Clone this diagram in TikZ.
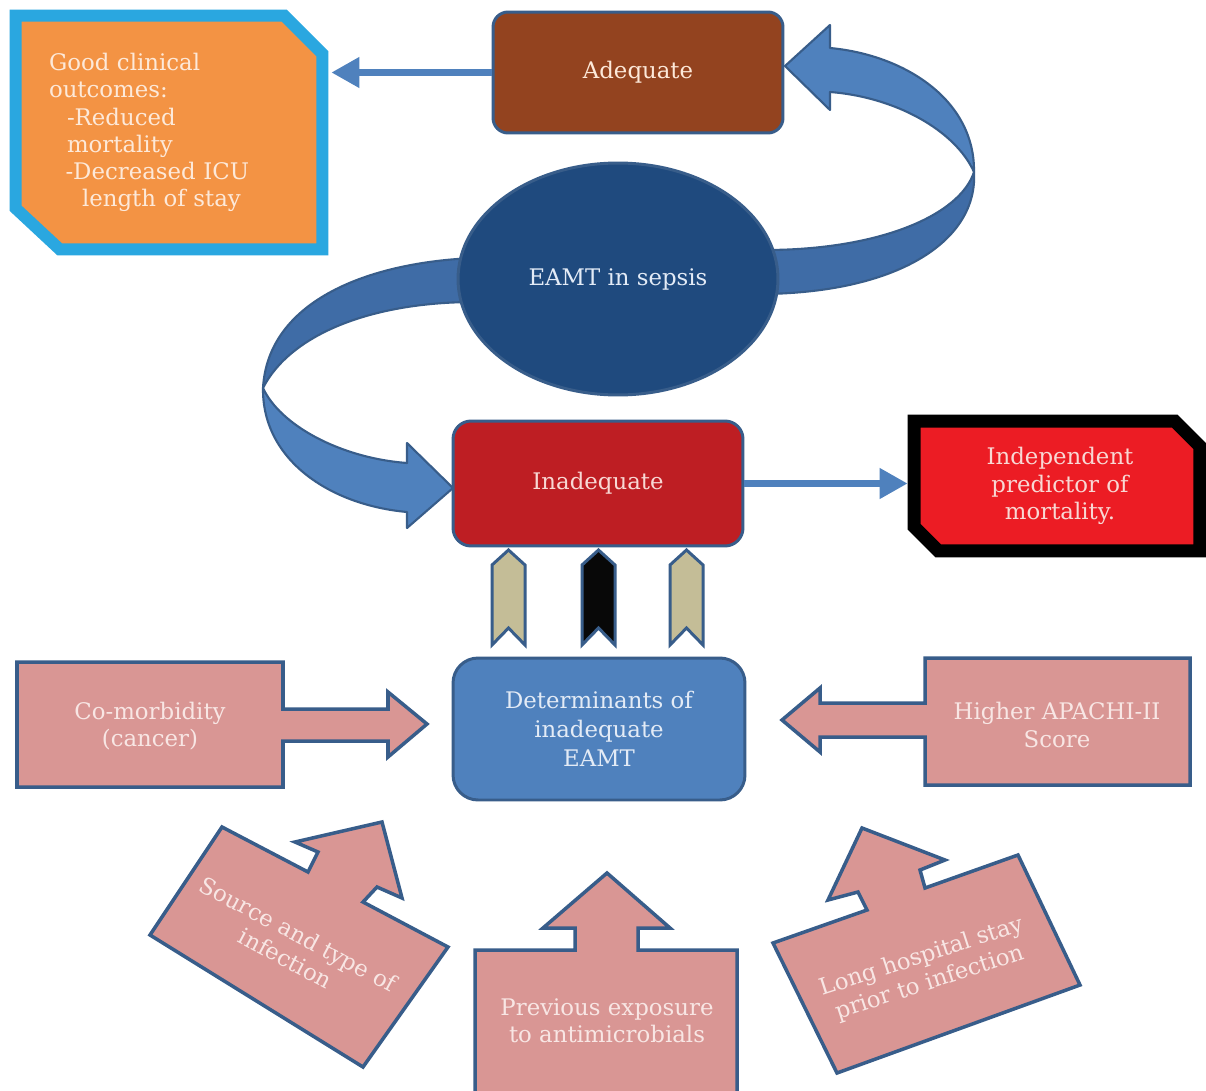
\documentclass[tikz,border=0pt]{standalone}
\usepackage{fontspec}
\setmainfont{DejaVu Serif}
\usetikzlibrary{arrows.meta,shapes.geometric}
\definecolor{bord}{HTML}{385D8A}
\definecolor{arrblue}{HTML}{4F81BD}
\definecolor{arrdark}{HTML}{3F6CA6}
\definecolor{goodfill}{HTML}{F39344}
\definecolor{goodbord}{HTML}{2AA7E0}
\definecolor{adqfill}{HTML}{93431F}
\definecolor{ellfill}{HTML}{1F4A7E}
\definecolor{inadfill}{HTML}{BE1E23}
\definecolor{indfill}{HTML}{EC1C24}
\definecolor{chevtan}{HTML}{C4BD97}
\definecolor{chevblack}{HTML}{080808}
\definecolor{detfill}{HTML}{4F81BD}
\definecolor{pinkfill}{HTML}{D99694}
\definecolor{cream}{HTML}{FDE9D9}
\definecolor{pinktext}{HTML}{F8E6E4}
\definecolor{bluetext}{HTML}{E3EBF6}
\definecolor{redtext}{HTML}{F8D8D4}
\begin{document}
\begin{tikzpicture}[x=0.02cm,y=-0.02cm,
  txt/.style={font=\fontsize{13pt}{15.5pt}\selectfont, align=center, inner sep=0pt},
  box/.style={draw=bord, line width=1.7pt, rounded corners=0.3cm, inner sep=0pt},
  conn/.style={draw=arrblue, line width=4.5pt, -{Triangle[length=0.56cm,width=0.58cm]}},
  blockarrow/.style={draw=bord, line width=2pt, fill=pinkfill, line join=miter},
  chev/.style={draw=bord, line width=1.7pt, line join=miter},
  ribbon/.style={draw=bord, line width=1.2pt, line join=round},
]
\useasboundingbox[fill=white] (0,0) rectangle (1206,1091);

% curved ribbon arrows
\draw[ribbon, fill=arrdark] (974,172) .. controls (978,240) and (900,292) .. (765,294)
  -- (765,250) .. controls (880,250) and (960,215) .. (974,172) -- cycle;
\draw[ribbon, fill=arrblue] (830,48) .. controls (905,55) and (975,100) .. (974,172)
  .. controls (955,130) and (895,97) .. (830,92) -- (830,110) -- (785,66) -- (830,25) -- cycle;
\draw[ribbon, fill=arrdark] (475,258) .. controls (370,262) and (268,300) .. (263,388)
  .. controls (290,335) and (370,302) .. (475,302) -- cycle;
\draw[ribbon, fill=arrblue] (263,388) .. controls (262,460) and (330,505) .. (407,512)
  -- (407,528) -- (453,488) -- (407,443) -- (407,463) .. controls (340,458) and (280,425) .. (263,388) -- cycle;

% main nodes
\node[ellipse, draw=bord, line width=1.7pt, fill=ellfill, minimum width=6.4cm, minimum height=4.64cm,
  txt, text=bluetext] (eamt) at (618,279) {EAMT in sepsis};
\node[box, fill=adqfill, minimum width=5.8cm, minimum height=2.42cm, txt, text=cream] (adequate) at (638,72.5) {Adequate};
\node[box, rounded corners=0.36cm, fill=inadfill, minimum width=5.8cm, minimum height=2.5cm, txt, text=redtext] (inadequate) at (598,483.5) {Inadequate};
\node[box, rounded corners=0.5cm, fill=detfill, minimum width=5.84cm, minimum height=2.84cm, txt,
  font=\fontsize{13pt}{16.5pt}\selectfont, text=bluetext] (determinants) at (599,729) {Determinants of\\inadequate\\EAMT};

% good clinical outcomes box
\node[inner sep=0pt, minimum width=6.12cm, minimum height=4.66cm] (good) at (169,132.5) {};
\draw[draw=goodbord, fill=goodfill, line width=6.8pt, line join=miter]
  (good.north west) -- ([xshift=-0.76cm]good.north east) -- ([yshift=-0.76cm]good.north east)
  -- (good.south east) -- ([xshift=0.88cm]good.south west) -- ([yshift=0.82cm]good.south west) -- cycle;
\node[txt, align=left, text width=4.8cm, text=cream] (goodtext) at (good.center)
  {Good clinical\\outcomes:\\\hspace*{0.36cm}-Reduced\\\hspace*{0.36cm}mortality\\\hspace*{0.33cm}-Decreased ICU\\\hspace*{0.66cm}length of stay};

% independent predictor box
\node[inner sep=0pt, minimum width=5.7cm, minimum height=2.58cm] (indepbox) at (1057,486) {};
\draw[draw=black, fill=indfill, line width=7.4pt, line join=miter]
  (indepbox.north west) -- ([xshift=-0.5cm]indepbox.north east) -- ([yshift=-0.5cm]indepbox.north east)
  -- (indepbox.south east) -- ([xshift=0.48cm]indepbox.south west) -- ([yshift=0.48cm]indepbox.south west) -- cycle;
\node[txt, text=redtext] (indep) at ([xshift=0.06cm]indepbox.center) {Independent\\predictor of\\mortality.};

% connectors
\draw[conn, shorten >=0.18cm] (adequate.west) -- (adequate.west -| good.east);
\draw[conn, shorten >=0.13cm] (inadequate.east) -- (inadequate.east -| indepbox.west);

% chevrons
\draw[chev, fill=chevtan] (492,565) -- (508.5,550) -- (525,565) -- (525,645) -- (508.5,628) -- (492,645) -- cycle;
\draw[chev, fill=chevblack] (582,565) -- (598.5,550) -- (615,565) -- (615,645) -- (598.5,628) -- (582,645) -- cycle;
\draw[chev, fill=chevtan] (670,565) -- (686.5,550) -- (703,565) -- (703,645) -- (686.5,628) -- (670,645) -- cycle;

% determinant block arrows
\draw[blockarrow] (17,662) -- (283,662) -- (283,709) -- (388,709) -- (388,692) -- (427,724)
  -- (388,757) -- (388,741) -- (283,741) -- (283,787) -- (17,787) -- cycle;
\node[txt, text=pinktext] (comorb) at (150,726) {Co-morbidity\\(cancer)};

\draw[blockarrow] (1190,658) -- (925,658) -- (925,703) -- (820,703) -- (820,688) -- (782,720)
  -- (820,752) -- (820,737) -- (925,737) -- (925,785) -- (1190,785) -- cycle;
\node[txt, text=pinktext] (apache) at (1057,725) {Higher APACHI-II\\Score};

\draw[blockarrow] (475,1100) -- (475,950) -- (575,950) -- (575,928) -- (543,928) -- (607,873)
  -- (670,928) -- (638,928) -- (638,950) -- (737,950) -- (737,1100) -- cycle;
\node[txt, text=pinktext] (prevexp) at (607,1021) {Previous exposure\\to antimicrobials};

\draw[blockarrow] (222,827) -- (308,872) -- (318,852) -- (295,842) -- (382,822) -- (402,898)
  -- (377,887) -- (363,902) -- (448,947) -- (363,1067) -- (150,935) -- cycle;
\node[txt, rotate=-28, text=pinktext] (source) at (292,946) {Source and type of\\infection};

\draw[blockarrow] (773,943) -- (867,910) -- (858,892) -- (828,900) -- (862,828) -- (945,860)
  -- (920,870) -- (925,888) -- (1018,855) -- (1080,985) -- (837,1073) -- cycle;
\node[txt, rotate=18, text=pinktext] (longstay) at (926,970) {Long hospital stay\\prior to infection};
\end{tikzpicture}
\end{document}
